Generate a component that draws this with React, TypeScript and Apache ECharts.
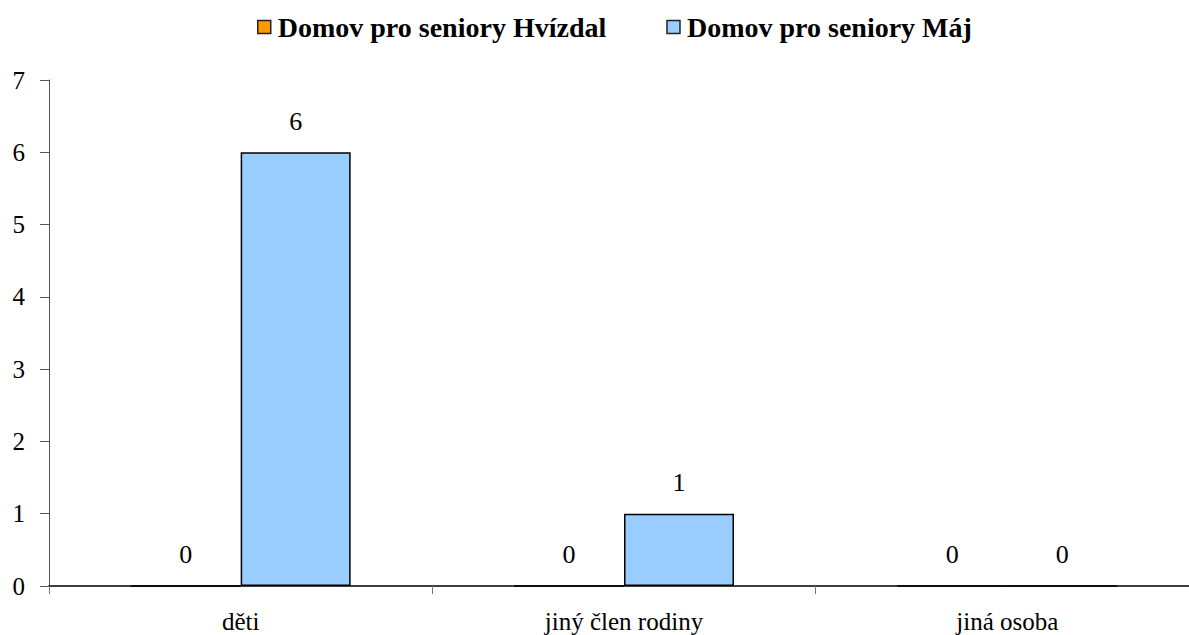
import React, { useEffect, useRef } from "react";
import * as echarts from "echarts";

const categories = ["děti", "jiný člen rodiny", "jiná osoba"];
const seriesNames = ["Domov pro seniory Hvízdal", "Domov pro seniory Máj"];
const hvizdal = [0, 0, 0];
const maj = [6, 1, 0];
const yTicks = { min: 0, max: 7, interval: 1 };

const FONT = "Liberation Serif";

export default function App() {
  const ref = useRef<HTMLDivElement>(null);
  useEffect(() => {
    document.body.style.margin = "0";
    document.body.style.overflow = "hidden";
    const chart = echarts.init(ref.current!, null, { renderer: "svg" });
    const label = {
      show: true,
      position: "top",
      distance: 18,
      fontFamily: FONT,
      fontSize: 26,
      color: "#000",
    };
    chart.setOption({
      animation: false,
      backgroundColor: "#fff",
      legend: {
        top: 8,
        left: 252,
        icon: "rect",
        itemWidth: 13,
        itemHeight: 13,
        itemGap: 60,
        itemStyle: { borderColor: "#222", borderWidth: 1.5 },
        textStyle: { fontFamily: FONT, fontSize: 28, fontWeight: "bold", color: "#000", padding: [0, 0, 0, 2] },
        data: seriesNames,
      },
      grid: { left: 49, right: 1, top: 80, bottom: 49, containLabel: false },
      xAxis: {
        type: "category",
        data: categories,
        axisLine: { lineStyle: { color: "#000", width: 1.5 } },
        axisTick: { show: true, length: 8, lineStyle: { color: "#777" }, alignWithLabel: false },
        axisLabel: { fontFamily: FONT, fontSize: 25, color: "#000", margin: 23 },
      },
      yAxis: {
        type: "value",
        min: yTicks.min,
        max: yTicks.max,
        interval: yTicks.interval,
        splitLine: { show: false },
        axisLine: { show: true, lineStyle: { color: "#555", width: 1 } },
        axisTick: { show: true, length: 9, lineStyle: { color: "#555" } },
        axisLabel: { fontFamily: FONT, fontSize: 25, color: "#000", margin: 24 },
      },
      series: [
        {
          name: seriesNames[0],
          type: "bar",
          data: hvizdal,
          barWidth: 110,
          barGap: "0%",
          itemStyle: { color: "#FF9900", borderColor: "#000", borderWidth: 1.5 },
          label,
        },
        {
          name: seriesNames[1],
          type: "bar",
          data: maj,
          barWidth: 110,
          barGap: "0%",
          itemStyle: { color: "#99CCFF", borderColor: "#000", borderWidth: 1.5 },
          label,
        },
      ],
    });
    return () => chart.dispose();
  }, []);
  return <div ref={ref} style={{ width: 1200, height: 635 }} />;
}
